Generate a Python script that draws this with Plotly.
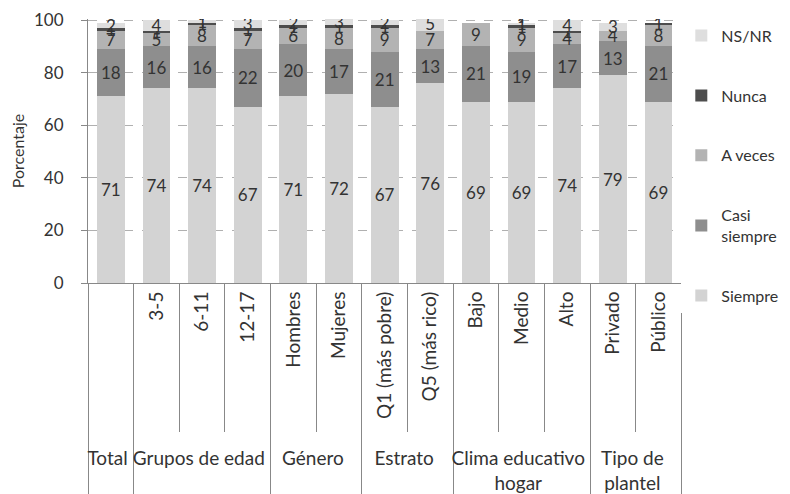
import plotly.graph_objects as go

grupos = ["Total", "Grupos de edad", "Grupos de edad", "Grupos de edad", "Género", "Género",
          "Estrato", "Estrato", "Clima educativo<br>hogar", "Clima educativo<br>hogar",
          "Clima educativo<br>hogar", "Tipo de<br>plantel", "Tipo de<br>plantel"]
categorias = [" ", "3-5", "6-11", "12-17", "Hombres", "Mujeres", "\u00a0\u00a0Q1 (más pobre)",
              "Q5 (más rico)", "Bajo", "Medio", "Alto", "Privado", "Público"]
y_ticks = [0, 20, 40, 60, 80, 100]

siempre = [71, 74, 74, 67, 71, 72, 67, 76, 69, 69, 74, 79, 69]
casi_siempre = [18, 16, 16, 22, 20, 17, 21, 13, 21, 19, 17, 13, 21]
a_veces = [7, 5, 8, 7, 6, 8, 9, 7, 9, 9, 4, 4, 8]
nunca = [1, 1, 1, 1, 1, 1, 1, 0, 0, 1, 1, 0, 1]
ns_nr = [2, 4, 1, 3, 2, 3, 2, 5, 0, 1, 4, 3, 0]

series = [
    ("Siempre", siempre, "#d3d3d3"),
    ("Casi<br>siempre", casi_siempre, "#8e8e8e"),
    ("A veces", a_veces, "#b3b3b3"),
    ("Nunca", nunca, "#4d4d4d"),
    ("NS/NR", ns_nr, "#dedede"),
]

fig = go.Figure()
for i, (name, vals, color) in enumerate(series):
    fig.add_trace(go.Bar(
        x=[grupos, categorias], y=vals, name=name, marker_color=color,
        marker_line_width=0, text=vals, textposition="inside", textangle=0,
        insidetextanchor="middle", textfont=dict(size=17, color="#333"),
        legendgroup=str(i), legendrank=len(series) - i,
    ))

# page body has an 8px margin, so the figure is 8px smaller than the window
fig.update_layout(
    barmode="stack", bargap=0.39,
    width=782, height=486,
    margin=dict(l=80, r=105, t=11, b=211),
    paper_bgcolor="white", plot_bgcolor="white",
    font=dict(family="Lato, Open Sans, sans-serif", size=16, color="#333"),
    uniformtext=dict(minsize=17, mode="show"),
    legend=dict(traceorder="grouped", xref="container", yref="container",
                x=0.861, y=0.978, xanchor="left", yanchor="top", maxheight=470,
                tracegroupgap=36, font=dict(size=16), itemwidth=30),
)
fig.update_yaxes(
    range=[0, 100.4], tickvals=y_ticks, showgrid=True, gridcolor="#b0b0b0", griddash="dash",
    showline=True, linecolor="#888", ticks="outside", ticklen=6, tickcolor="#888",
    tickfont=dict(size=17), ticklabelstandoff=14,
    title=dict(text="Porcentaje", font=dict(size=16), standoff=16),
    zeroline=False, automargin=False,
)
fig.update_xaxes(
    showline=True, linecolor="#888", ticks="outside", ticklen=148, tickcolor="#888",
    tickangle=-90, tickfont=dict(size=19), showdividers=True, dividercolor="#888",
    automargin=False,
)

fig.write_html("out.html")
